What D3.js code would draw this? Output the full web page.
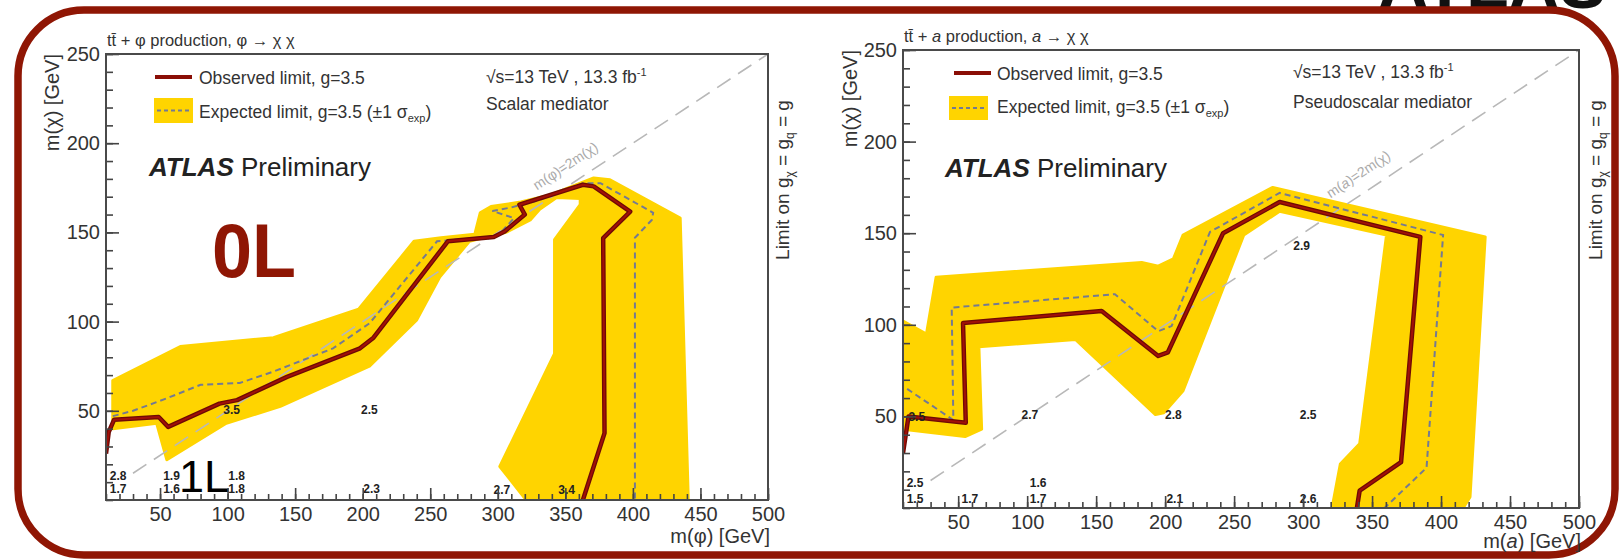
<!DOCTYPE html>
<html><head><meta charset="utf-8">
<script src="https://cdn.jsdelivr.net/npm/d3@7"></script>
<style>
body{margin:0;background:#fff;}
svg{display:block;font-family:"Liberation Sans",Arial,Helvetica,sans-serif;}
</style></head><body>
<svg id="c" width="1621" height="560"></svg>
<script>
// ---------- data ----------
const xTicks = [50,100,150,200,250,300,350,400,450,500];
const yTicks = [50,100,150,200,250];
const xMinor = d3.range(10,501,10);
const yMinor = d3.range(0,251,10);

// Scalar mediator (left)
const scalarObserved = [[10,26],[12,38],[16,45],[49,46.5],[56,41],[94,54],[107,56],[144,69],[198,85],[208,91],[263,145],[297,147.4],[305,150.5],[320,160],[316,165.5],[363,176.7],[371,175.8],[398,161.7],[378,146.8],[379,37.5],[363,0]];
const scalarExpected = [[15,47],[30,50],[55,57],[80,64.6],[109,65.6],[134,72],[178,85],[205,99],[255,145],[300,148],[312,158],[296,162],[310,164],[330,168],[363,177.6],[376,177.6],[415,161],[414,157],[401.5,147],[401.5,0]];
const scalarBandUpper = [[15,67],[65,86],[134,91],[197,107],[238,145],[258,147],[283,149],[287,161],[295,164.5],[317,167],[339,171],[371,180.5],[383,179.5],[435,158],[441,0]];
const scalarBandLower = [[321,0],[301.5,18.8],[342,82],[342,146],[361,165.5],[361,169],[343.5,169.5],[331,163],[324,157],[306,150],[279,145],[257,125],[240,101],[205,75],[139,52.5],[99,43],[55,22.6],[47.5,43],[15,40]];
const scalarLabels = [["3.5",103,50.6],["2.5",205,50.6],["2.8",19,13.5],["1.7",19,6],["1.9",58.5,13.5],["1.6",58.5,6],["1.8",106.7,13.5],["1.8",106.7,6],["2.3",206.6,6.5],["2.7",303,5.8],["3.4",351,5.8]];

// Pseudoscalar mediator (right)
const pseudoObserved = [[10,30],[14,50],[55.5,46.5],[53.5,101],[154,107.5],[195,83],[202,85],[242,150],[283,167],[385,148],[371,25],[341,9.5],[339,0]];
const pseudoExpected = [[13,65],[46.5,48],[45.3,109.4],[163.6,116.7],[195,96.5],[204.7,99.3],[232.5,150.7],[283,172],[401.5,149],[389.5,22],[359,0]];
const pseudoBandUpper = [[10,102],[27,95],[34,126],[183,134],[195,132],[206,136],[213,149],[278,175],[432,148],[421,6],[416,0]];
const pseudoBandLower = [[321,0],[327,24],[341,35],[360.5,149],[283,162],[257,149],[213,64],[199,52],[193,51],[135,92],[65,88],[67,43],[55,39],[10,43]];
const pseudoLabels = [["3.5",20,49.7],["2.7",102,50.7],["2.8",206,50.7],["2.5",303.7,50.7],["2.9",299,143.3],["2.5",18.7,14],["1.5",18.7,4.8],["1.7",58.5,4.8],["1.6",108,14],["1.7",108,4.8],["2.1",207,4.8],["2.6",303.7,4.8]];

const xDomain = [10,500];
const yDomain = [0,250];

// ---------- drawing ----------
const svg = d3.select("#c");
const RED = "#8f1604";
const YELLOW = "#ffd400";

// big ATLAS cut at top right
svg.append("text").attr("x",1378).attr("y",8).attr("font-size",70).attr("font-weight","bold")
  .attr("fill","#111").text("ATLAS");

svg.append("rect").attr("x",18).attr("y",10).attr("width",1597).attr("height",545)
  .attr("rx",66).attr("ry",66).attr("fill","none").attr("stroke",RED).attr("stroke-width",7.5);

const panels = [
 {id:"s", x0:106, x1:768, y0:54, y1:500, obs:scalarObserved, exp:scalarExpected, up:scalarBandUpper, lo:scalarBandLower, labels:scalarLabels,
  top:["t","t̄"," + φ production, φ → χ χ"], med:"Scalar mediator", xt:"φ", italic:false,
  leg:{lx:49,ly:23,tx:93,ty:30,bx:48,by:44,bw:39,bh:25,ety:64,ax:43,ay:122,sx:380,sy:29,my:56},
  ytX:59, rtX:789, xtY:543, diagLab:[352,185]},
 {id:"p", x0:903, x1:1579, y0:50, y1:508, obs:pseudoObserved, exp:pseudoExpected, up:pseudoBandUpper, lo:pseudoBandLower, labels:pseudoLabels,
  top:["t","t̄"," + ","a"," production, ","a"," → χ χ"], med:"Pseudoscalar mediator", xt:"a", italic:true,
  leg:{lx:51,ly:23,tx:94,ty:30,bx:46,by:46,bw:39,bh:24,ety:63,ax:42,ay:127,sx:390,sy:28,my:58},
  ytX:857, rtX:1602, xtY:548, diagLab:[342,180]}
];

panels.forEach(p=>{
  const x = d3.scaleLinear().domain(xDomain).range([p.x0,p.x1]);
  const y = d3.scaleLinear().domain(yDomain).range([p.y1,p.y0]);
  const g = svg.append("g");
  const cid = "clip"+p.id;
  svg.append("defs").append("clipPath").attr("id",cid).append("rect")
    .attr("x",p.x0).attr("y",p.y0).attr("width",p.x1-p.x0).attr("height",p.y1-p.y0);
  const pg = g.append("g").attr("clip-path",`url(#${cid})`);
  const line = d3.line().x(d=>x(d[0])).y(d=>y(d[1]));
  // band
  pg.append("path").attr("d", line(p.up.concat(p.lo))+"Z").attr("fill",YELLOW).attr("stroke",YELLOW).attr("stroke-width",3).attr("stroke-linejoin","round");
  // diagonal
  pg.append("path").attr("d", line([[30,15],[500,250]])).attr("stroke","#b8b8b8").attr("stroke-width",1.6)
    .attr("stroke-dasharray","16,9").attr("fill","none");
  // expected
  pg.append("path").attr("d", line(p.exp)).attr("stroke","#747a92").attr("stroke-width",2).attr("stroke-dasharray","6,4").attr("fill","none");
  // observed
  pg.append("path").attr("d", line(p.obs)).attr("stroke","#6e0a04").attr("stroke-width",4.5).attr("fill","none").attr("stroke-linejoin","round");
  pg.append("path").attr("d", line(p.obs)).attr("stroke","#a01008").attr("stroke-width",2).attr("fill","none").attr("stroke-linejoin","round");
  // diag label
  const ang = -Math.atan2(y(0)-y(0.5), x(1)-x(0))*180/Math.PI;
  g.append("text").attr("transform",`translate(${x(p.diagLab[0])},${y(p.diagLab[1])}) rotate(${ang})`)
    .attr("font-size",14).attr("fill","#aaa").attr("text-anchor","middle")
    .html(p.italic?'m(<tspan font-style="italic">a</tspan>)=2m(χ)':'m(φ)=2m(χ)');
  // number labels
  g.selectAll("text.num").data(p.labels).enter().append("text").attr("class","num")
    .attr("x",d=>x(d[1])).attr("y",d=>y(d[2])).attr("dy","0.35em").attr("text-anchor","middle")
    .attr("font-size",12).attr("font-weight","bold").attr("fill","#222").text(d=>d[0]);
  // axes
  const ax = g.append("g").attr("transform",`translate(0,${p.y1})`)
    .call(d3.axisBottom(x).tickValues(xTicks).tickSizeInner(-12).tickSizeOuter(0).tickPadding(7));
  const axm = g.append("g").attr("transform",`translate(0,${p.y1})`)
    .call(d3.axisBottom(x).tickValues(xMinor).tickSizeInner(-6).tickSizeOuter(0).tickFormat(""));
  const ay = g.append("g").attr("transform",`translate(${p.x0},0)`)
    .call(d3.axisLeft(y).tickValues(yTicks).tickSizeInner(-13).tickSizeOuter(0).tickPadding(6));
  const aym = g.append("g").attr("transform",`translate(${p.x0},0)`)
    .call(d3.axisLeft(y).tickValues(yMinor).tickSizeInner(-7).tickSizeOuter(0).tickFormat(""));
  [ax,axm,ay,aym].forEach(a=>{a.select(".domain").remove();a.selectAll("line").attr("stroke","#444").attr("stroke-width",1.6);
    a.selectAll("text").attr("font-size",20).attr("fill","#333").attr("font-family","Liberation Sans,Arial,sans-serif");});
  // frame
  g.append("rect").attr("x",p.x0).attr("y",p.y0).attr("width",p.x1-p.x0).attr("height",p.y1-p.y0)
    .attr("fill","none").attr("stroke","#4a4a4a").attr("stroke-width",2);
  // axis titles
  g.append("text").attr("x",p.x1+2).attr("y",p.xtY).attr("text-anchor","end").attr("font-size",20).attr("fill","#333")
    .html(p.italic?'m(<tspan font-style="italic">a</tspan>) [GeV]':'m(φ) [GeV]');
  g.append("text").attr("transform",`translate(${p.ytX},${p.y0}) rotate(-90)`).attr("text-anchor","end").attr("font-size",20).attr("fill","#333")
    .text("m(χ) [GeV]");
  g.append("text").attr("transform",`translate(${p.rtX},180) rotate(-90)`).attr("text-anchor","middle").attr("font-size",19).attr("fill","#333")
    .html('Limit on g<tspan font-size="12" dy="5">χ</tspan><tspan dy="-5"> = g</tspan><tspan font-size="12" dy="5">q</tspan><tspan dy="-5"> = g</tspan>');
  // top text
  const tt = g.append("text").attr("x",p.x0+1).attr("y",p.y0-8).attr("font-size",16.5).attr("fill","#333");
  p.top.forEach((s,i)=>{ tt.append("tspan").attr("font-style", (s==="a")?"italic":null).text(s); });
  // legend
  const L = p.leg;
  g.append("line").attr("x1",p.x0+L.lx).attr("x2",p.x0+L.lx+37).attr("y1",p.y0+L.ly).attr("y2",p.y0+L.ly).attr("stroke","#8a0e06").attr("stroke-width",4);
  g.append("text").attr("x",p.x0+L.tx).attr("y",p.y0+L.ty).attr("font-size",17.5).attr("fill","#333").text("Observed limit, g=3.5");
  g.append("rect").attr("x",p.x0+L.bx).attr("y",p.y0+L.by).attr("width",L.bw).attr("height",L.bh).attr("fill",YELLOW);
  g.append("line").attr("x1",p.x0+L.bx+3).attr("x2",p.x0+L.bx+L.bw-3).attr("y1",p.y0+L.by+L.bh/2).attr("y2",p.y0+L.by+L.bh/2)
    .attr("stroke","#747a92").attr("stroke-width",2).attr("stroke-dasharray","4,3");
  g.append("text").attr("x",p.x0+L.tx).attr("y",p.y0+L.ety).attr("font-size",17.5).attr("fill","#333")
    .html('Expected limit, g=3.5 (±1 σ<tspan font-size="11" dy="4">exp</tspan><tspan dy="-4">)</tspan>');
  const at = g.append("text").attr("x",p.x0+L.ax).attr("y",p.y0+L.ay).attr("font-size",26).attr("fill","#222");
  at.append("tspan").attr("font-weight","bold").attr("font-style","italic").text("ATLAS");
  at.append("tspan").text(" Preliminary");
  g.append("text").attr("x",p.x0+L.sx).attr("y",p.y0+L.sy).attr("font-size",17.5).attr("fill","#333")
    .html('√s=13 TeV , 13.3 fb<tspan font-size="11" dy="-7">-1</tspan>');
  g.append("text").attr("x",p.x0+L.sx).attr("y",p.y0+L.my).attr("font-size",17.5).attr("fill","#333").text(p.med);
});

// annotations
svg.append("text").attr("x",212).attr("y",277).attr("font-size",76).attr("font-weight","bold").attr("fill",RED)
  .attr("textLength",84).attr("lengthAdjust","spacingAndGlyphs").text("0L");
svg.append("text").attr("x",179).attr("y",492).attr("font-size",45).attr("fill","#000").text("1L");
</script></body></html>
